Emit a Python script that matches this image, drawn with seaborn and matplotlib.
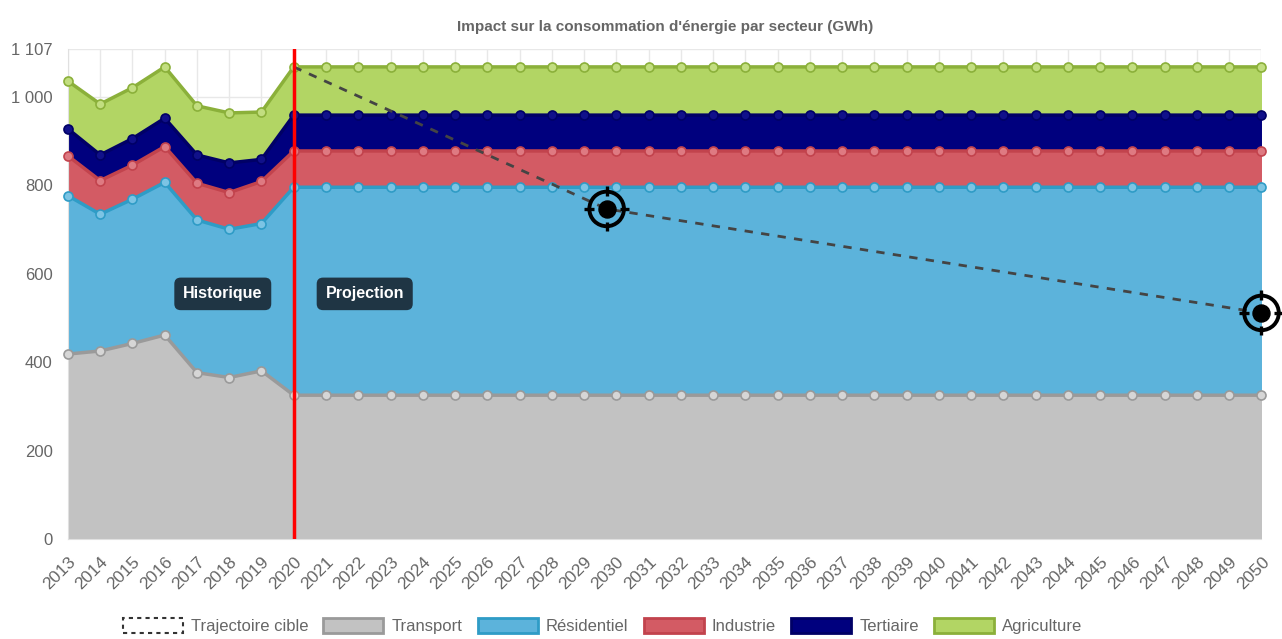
import matplotlib
matplotlib.use("Agg")
import matplotlib.pyplot as plt
import seaborn as sns
import numpy as np
import pandas as pd
from matplotlib.patches import Patch
from matplotlib.path import Path

years = list(range(2013, 2051))

transport = [418, 425, 442, 461, 376, 365, 380, 325,
             325, 325, 325, 325, 325, 325, 325, 325, 325, 325,
             325, 325, 325, 325, 325, 325, 325, 325, 325, 325,
             325, 325, 325, 325, 325, 325, 325, 325, 325, 325]
residentiel = [358, 309, 326, 345, 345, 335, 333, 470,
               470, 470, 470, 470, 470, 470, 470, 470, 470, 470,
               470, 470, 470, 470, 470, 470, 470, 470, 470, 470,
               470, 470, 470, 470, 470, 470, 470, 470, 470, 470]
industrie = [90, 76, 77, 81, 83, 83, 95, 82,
             82, 82, 82, 82, 82, 82, 82, 82, 82, 82,
             82, 82, 82, 82, 82, 82, 82, 82, 82, 82,
             82, 82, 82, 82, 82, 82, 82, 82, 82, 82]
tertiaire = [61, 58, 60, 64, 64, 67, 50, 81,
             81, 81, 81, 81, 81, 81, 81, 81, 81, 81,
             81, 81, 81, 81, 81, 81, 81, 81, 81, 81,
             81, 81, 81, 81, 81, 81, 81, 81, 81, 81]
agriculture = [108, 115, 115, 116, 111, 113, 107, 109,
               109, 109, 109, 109, 109, 109, 109, 109, 109, 109,
               109, 109, 109, 109, 109, 109, 109, 109, 109, 109,
               109, 109, 109, 109, 109, 109, 109, 109, 109, 109]

traj_years = [2020, 2029.7, 2050]
traj_values = [1067, 746, 511]
target_years = [2029.7, 2050]
target_values = [746, 511]

sectors = ["Transport", "Résidentiel", "Industrie", "Tertiaire", "Agriculture"]
fills = ["#c2c2c2", "#5cb3db", "#d35b64", "#00007e", "#b2d564"]
edges = ["#9a9a9a", "#2f9cc6", "#c2434d", "#000066", "#8bb03a"]
points = ["#d6d6d6", "#7cc4e4", "#de7a82", "#10108a", "#c2de80"]

sns.set_style("white")
plt.rcParams["font.family"] = ["Liberation Sans", "DejaVu Sans"]

df = pd.DataFrame({"year": years, "Transport": transport, "Résidentiel": residentiel,
                   "Industrie": industrie, "Tertiaire": tertiaire,
                   "Agriculture": agriculture})
stack = df[sectors].cumsum(axis=1)
stack["year"] = df["year"]

fig = plt.figure(figsize=(12.82, 6.39), dpi=100)
ax = fig.add_axes([0.053, 0.1565, 0.931, 0.7665])

base = np.zeros(len(years))
for name, fc in zip(sectors, fills):
    ax.fill_between(stack["year"], base, stack[name], color=fc, lw=0, zorder=2)
    base = stack[name].values

for name, ec, pc in zip(sectors, edges, points):
    sns.lineplot(data=stack, x="year", y=name, ax=ax, color=ec, lw=2.5,
                 marker="o", markersize=6.5, markerfacecolor=pc,
                 markeredgecolor=ec, markeredgewidth=1.2, zorder=3, clip_on=False)

# trajectoire cible
sns.lineplot(x=traj_years, y=traj_values, ax=ax, color="#444444", lw=2, zorder=4)
ax.lines[-1].set_dashes((3, 3))

# crosshair markers
verts, codes = [], []
for dx, dy in [(1, 0), (-1, 0), (0, 1), (0, -1)]:
    verts += [(0.75 * dx, 0.75 * dy), (1.3 * dx, 1.3 * dy)]
    codes += [Path.MOVETO, Path.LINETO]
ticks_path = Path(verts, codes)
ax.scatter(target_years, target_values, s=620, marker="o", facecolor="none",
           edgecolor="black", linewidth=2.8, zorder=6, clip_on=False)
ax.scatter(target_years, target_values, s=1050, marker=ticks_path, facecolor="none",
           edgecolor="black", linewidth=2.4, zorder=6, clip_on=False)
ax.scatter(target_years, target_values, s=150, color="black", zorder=7, clip_on=False)

ax.axvline(2020, color="#ff0000", lw=2.5, zorder=5)

box = dict(boxstyle="round,pad=0.55,rounding_size=0.4", fc="#1f3544", ec="none")
ax.text(2017.8, 554, "Historique", color="white", fontsize=11.5, fontweight="bold",
        ha="center", va="center", bbox=box, zorder=8)
ax.text(2022.2, 554, "Projection", color="white", fontsize=11.5, fontweight="bold",
        ha="center", va="center", bbox=box, zorder=8)

ax.set_xlim(2013, 2050)
ax.set_ylim(0, 1107)
ax.set_xticks(years)
ax.set_xticklabels([str(y) for y in years], rotation=45, ha="right",
                   rotation_mode="anchor", fontsize=12.5, color="#666666")
yt = [0, 200, 400, 600, 800, 1000, 1107]
ax.set_yticks(yt)
ax.set_yticklabels(["0", "200", "400", "600", "800", "1 000", "1 107"],
                   fontsize=12, color="#666666")
ax.tick_params(axis="both", length=7, color="#e0e0e0", width=1, pad=4)
ax.grid(True, color="#e8e8e8", lw=1, zorder=0)
ax.set_axisbelow(True)
for s in ["top", "right"]:
    ax.spines[s].set_visible(False)
for s in ["left", "bottom"]:
    ax.spines[s].set_color("#e0e0e0")
ax.set_xlabel("")
ax.set_ylabel("")

ax.set_title("Impact sur la consommation d'énergie par secteur (GWh)",
             fontsize=11, fontweight="bold", color="#666666", pad=13)

handles = [Patch(facecolor="white", edgecolor="#333333", linestyle=(0, (2, 2)),
                 linewidth=1.5, label="Trajectoire cible")]
for name, fc, ec in zip(sectors, fills, edges):
    handles.append(Patch(facecolor=fc, edgecolor=ec, linewidth=2, label=name))
leg = fig.legend(handles=handles, loc="center", bbox_to_anchor=(0.47, 0.02),
                 ncol=6, frameon=False, fontsize=12, handlelength=3.6,
                 handleheight=1.0, columnspacing=0.9, handletextpad=0.5)
for t in leg.get_texts():
    t.set_color("#666666")

fig.savefig("out.png", dpi=100)
